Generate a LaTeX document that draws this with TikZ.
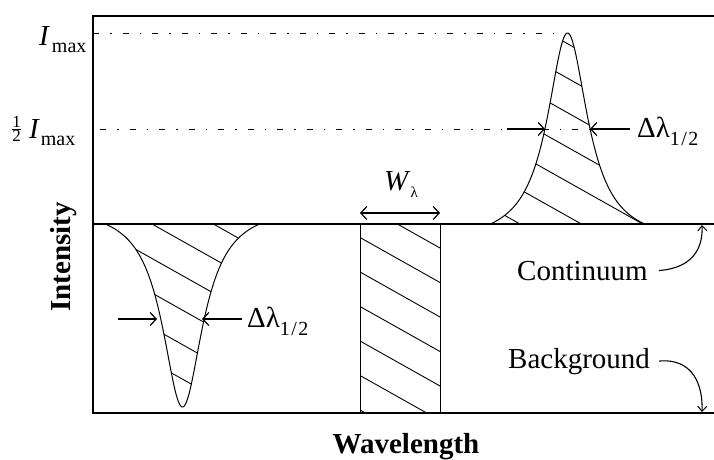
\documentclass[tikz,border=0pt]{standalone}
\usepackage{fontspec}
\setmainfont{Liberation Serif}
\usetikzlibrary{arrows.meta}
\begin{document}
\begin{tikzpicture}[x=1pt,y=-1pt,
  frame/.style={line width=1.7pt},
  thinframe/.style={line width=1.2pt},
  curve/.style={line width=1pt},
  hatch/.style={line width=0.9pt},
  refline/.style={line width=1pt, dash pattern=on 6pt off 11pt on 1.5pt off 11pt},
  marker/.style={line width=1.4pt, -{Straight Barb[length=6pt,width=13pt,line width=1.2pt]}},
  dblmarker/.style={line width=1.4pt, {Straight Barb[length=6pt,width=13pt,line width=1.2pt]}-{Straight Barb[length=6pt,width=13pt,line width=1.2pt]}},
  bentarrow/.style={line width=1.1pt, -{Straight Barb[length=5pt,width=9pt,line width=1pt]}},
  lab/.style={font=\fontsize{29}{29}\selectfont, inner sep=0pt},
  axlab/.style={font=\fontsize{29}{29}\selectfont\bfseries, inner sep=0pt}]
\useasboundingbox (0,0) rectangle (714,459);

% hatching of emission line
\begin{scope}
\clip plot[domain=490:645,samples=200] (\x,{224-191*(1/(1+((\x-567.5)/24.7)^2)-0.093)/0.907}) -- cycle;
\foreach \k in {-12,...,12} \draw[hatch] (0,{203+34.5*\k-202.5}) -- (714,{203+34.5*\k+199.1});
\end{scope}
% hatching of absorption line
\begin{scope}
\clip plot[domain=105:260,samples=200] (\x,{224+183*(1/(1+((\x-182.5)/24.7)^2)-0.093)/0.907}) -- cycle;
\foreach \k in {-12,...,12} \draw[hatch] (0,{203+34.5*\k-202.5}) -- (714,{203+34.5*\k+199.1});
\end{scope}
% hatching of equivalent-width box
\begin{scope}
\clip (360,224) rectangle (440,413);
\foreach \k in {-12,...,12} \draw[hatch] (0,{203+34.5*\k-202.5}) -- (714,{203+34.5*\k+199.1});
\end{scope}

% line profiles
\draw[curve] plot[domain=490:645,samples=200] (\x,{224-191*(1/(1+((\x-567.5)/24.7)^2)-0.093)/0.907});
\draw[curve] plot[domain=105:260,samples=200] (\x,{224+183*(1/(1+((\x-182.5)/24.7)^2)-0.093)/0.907});
\draw[curve] (360,224) -- (360,413) (440,224) -- (440,413);

% frame
\draw[frame] (714,16) -- (93,16) -- (93,413) -- (714,413);
\draw[frame] (93,224) -- (714,224);

% reference levels
\draw[refline] (93,33) -- (565,33);
\draw[refline] (100,129) -- (590,129);

% labels
\node[lab, anchor=base west] (imax) at (39,45) {\textit{I}\kern2pt\raisebox{-7pt}{\fontsize{20}{20}\selectfont max}};
\node[lab, anchor=base west] (half) at (11,138) {\raisebox{4pt}{\fontsize{17}{17}\selectfont$\frac{\mbox{1}}{\mbox{2}}$}\kern7pt\textit{I}\kern1pt\raisebox{-7pt}{\fontsize{20}{20}\selectfont max}};
\node[lab, anchor=base west] (dlpeak) at (637,137) {Δλ\raisebox{-8pt}{\fontsize{20}{20}\selectfont 1\kern1.5pt/\kern1.5pt2}};
\node[lab, anchor=base west] (dlabs) at (247,327) {Δλ\raisebox{-8pt}{\fontsize{20}{20}\selectfont 1\kern1.5pt/\kern1.5pt2}};
\node[lab, anchor=base west] (wl) at (384,190) {\textit{W}\raisebox{-7pt}{\fontsize{15}{15}\selectfont λ}};
\node[lab, anchor=base west] (cont) at (517,280) {Continuum};
\node[lab, anchor=base west] (bg) at (508,368) {Background};
\node[axlab, rotate=90] (ylab) at (64,257) {Intensity};
\node[axlab, anchor=base] (xlab) at (406,453) {Wavelength};

% width markers
\coordinate (pkl0) at (507,129); \coordinate (pkl1) at (545,129);
\coordinate (pkr0) at (630,129); \coordinate (pkr1) at (590,129);
\draw[marker] (pkl0) -- (pkl1);
\draw[marker] (pkr0) -- (pkr1);
\coordinate (abl0) at (118,319); \coordinate (abl1) at (157,319);
\coordinate (abr0) at (242,319); \coordinate (abr1) at (202,319);
\draw[marker] (abl0) -- (abl1);
\draw[marker] (abr0) -- (abr1);
\coordinate (wa) at (360,213); \coordinate (wb) at (440,213);
\draw[dblmarker] (wa) -- (wb);

% pointers to continuum and background
\coordinate (contpt) at (702,225);
\coordinate (bgpt) at (702,412);
\draw[bentarrow] ([xshift=11pt]cont.east) .. controls (693,268) and (703,248) .. (contpt);
\draw[bentarrow] ([xshift=9pt]bg.east) .. controls (693,358) and (703,385) .. (bgpt);
\end{tikzpicture}
\end{document}
